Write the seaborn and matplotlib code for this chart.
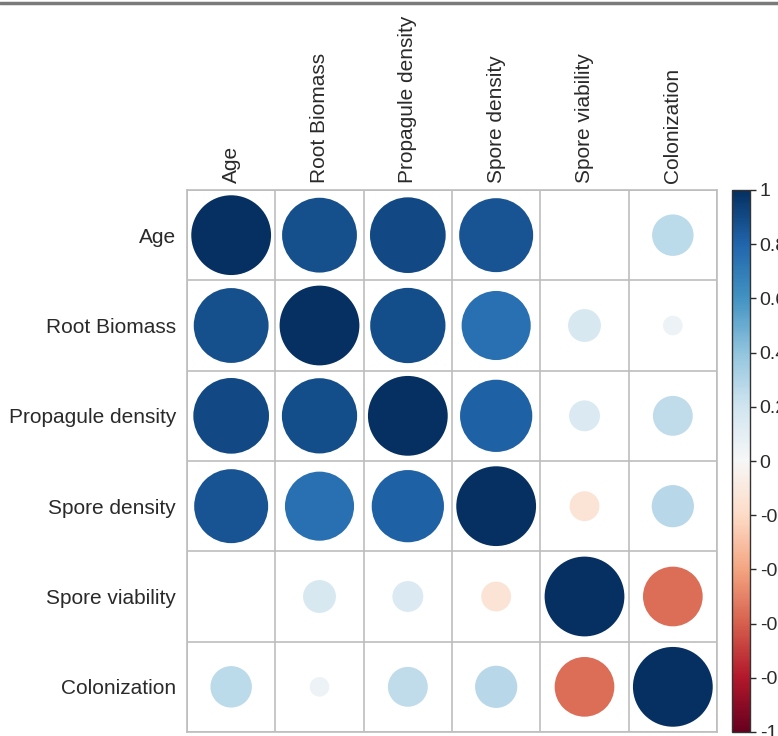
import numpy as np
import pandas as pd
import seaborn as sns
import matplotlib
matplotlib.use("Agg")
import matplotlib.pyplot as plt
from matplotlib.lines import Line2D
from matplotlib.colors import Normalize
from matplotlib.cm import ScalarMappable

# variables and correlation rows
variables = ["Age", "Root Biomass", "Propagule density", "Spore density",
             "Spore viability", "Colonization"]
r_age = [1.00, 0.88, 0.90, 0.86, 0.00, 0.27]
r_root = [0.88, 1.00, 0.89, 0.75, 0.17, 0.06]
r_propagule = [0.90, 0.89, 1.00, 0.82, 0.15, 0.25]
r_spore_density = [0.86, 0.75, 0.82, 1.00, -0.14, 0.28]
r_spore_viability = [0.00, 0.17, 0.15, -0.14, 1.00, -0.56]
r_colonization = [0.27, 0.06, 0.25, 0.28, -0.56, 1.00]
cbar_ticks = [1, 0.8, 0.6, 0.4, 0.2, 0, -0.2, -0.4, -0.6, -0.8, -1]
cbar_labels = ["1", "0.8", "0.6", "0.4", "0.2", "0", "-0.2", "-0.4", "-0.6", "-0.8", "-1"]

rows = [r_age, r_root, r_propagule, r_spore_density, r_spore_viability, r_colonization]
records = []
for i, row in enumerate(rows):
    for j, r in enumerate(row):
        records.append({"col": j, "row": i, "r": r, "absr": abs(r)})
df = pd.DataFrame(records)

sns.set_style("white")
plt.rcParams["font.family"] = ["Liberation Sans", "DejaVu Sans"]

fig = plt.figure(figsize=(7.78, 7.36), dpi=100)
ax = fig.add_axes([187 / 778, 4 / 736, 530 / 778, 542 / 736])

cmap = "RdBu"
sns.scatterplot(
    data=df, x="col", y="row", hue="r", size="absr",
    palette=cmap, hue_norm=(-1, 1),
    sizes=(0, 3300), size_norm=(0, 1),
    linewidth=0, legend=False, ax=ax, zorder=3,
)

n = len(variables)
ax.set_xlim(-0.5, n - 0.5)
ax.set_ylim(n - 0.5, -0.5)
ax.set_xticks(range(n))
ax.set_yticks(range(n))
ax.set_xticklabels(variables, rotation=90, fontsize=15, color="#2a2a2a")
ax.set_yticklabels(variables, fontsize=15, color="#2a2a2a")
ax.xaxis.tick_top()
ax.tick_params(axis="x", length=0, pad=5)
ax.tick_params(axis="y", length=0, pad=8)
ax.set_xlabel("")
ax.set_ylabel("")

# cell grid
ax.set_xticks(np.arange(-0.5, n, 1), minor=True)
ax.set_yticks(np.arange(-0.5, n, 1), minor=True)
ax.grid(which="minor", color="#bdbdbd", linewidth=1.2)
ax.grid(which="major", visible=False)
ax.tick_params(which="minor", length=0)
for s in ax.spines.values():
    s.set_color("#bdbdbd")
    s.set_linewidth(1.2)

# colorbar
cax = fig.add_axes([732 / 778, 4 / 736, 18 / 778, 542 / 736])
sm = ScalarMappable(norm=Normalize(-1, 1), cmap=cmap)
cb = fig.colorbar(sm, cax=cax)
cb.set_ticks(cbar_ticks)
cb.set_ticklabels(cbar_labels)
cb.ax.tick_params(labelsize=14, length=4, width=1, colors="#2a2a2a", pad=3)
cb.outline.set_linewidth(1)
cb.outline.set_edgecolor("#333333")

# grey frame line along the top of the screenshot
fig.add_artist(Line2D([0, 1], [0.996, 0.996], color="#7a7a7a", linewidth=2.5))

fig.savefig("out.png", dpi=100)
